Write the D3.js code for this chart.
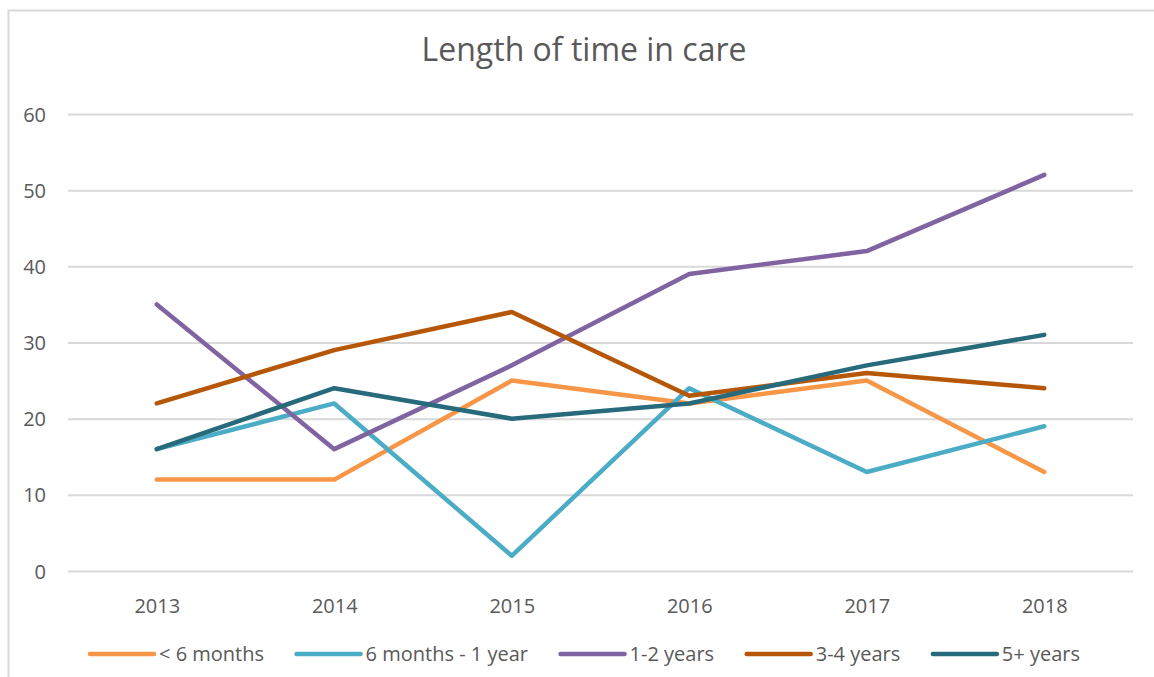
<!DOCTYPE html>
<html>
<head>
<meta charset="utf-8">
<script src="https://cdn.jsdelivr.net/npm/d3@7"></script>
<style>
  html, body { margin: 0; padding: 0; background: #fff; }
  svg { display: block; font-family: "Open Sans", Lato, sans-serif; }
</style>
</head>
<body>
<svg id="chart" width="1154" height="677"></svg>
<script>
const years = ["2013", "2014", "2015", "2016", "2017", "2018"];
const seriesNames = ["< 6 months", "6 months - 1 year", "1-2 years", "3-4 years", "5+ years"];
const lessThan6Months = [12, 12, 25, 22, 25, 13];
const sixMonthsTo1Year = [16, 22, 2, 24, 13, 19];
const oneToTwoYears = [35, 16, 27, 39, 42, 52];
const threeToFourYears = [22, 29, 34, 23, 26, 24];
const fivePlusYears = [16, 24, 20, 22, 27, 31];
const yTicks = [0, 10, 20, 30, 40, 50, 60];
const colors = ["#F79646", "#4BACC6", "#8064A2", "#B65708", "#276A7C"];

const seriesValues = [lessThan6Months, sixMonthsTo1Year, oneToTwoYears, threeToFourYears, fivePlusYears];
const series = seriesNames.map((name, i) => ({ name, values: seriesValues[i], color: colors[i] }));

const svg = d3.select("#chart");
const W = 1154, H = 677;
const plotLeft = 68, plotRight = 1133, plotTop = 114, plotBottom = 571;
const fontFam = "'Open Sans', Lato, sans-serif";

// frame
svg.append("path")
  .attr("d", `M8.5,${H} L8.5,10.5 L${W},10.5`)
  .attr("fill", "none").attr("stroke", "#d9d9d9").attr("stroke-width", 2);

// title
svg.append("text")
  .attr("x", 584).attr("y", 61)
  .attr("text-anchor", "middle")
  .attr("fill", "#595959")
  .attr("font-size", 32)
  .text("Length of time in care");

const x = d3.scalePoint().domain(years).range([plotLeft, plotRight]).padding(0.5);
const y = d3.scaleLinear().domain([0, 60]).range([plotBottom, plotTop]);

// y gridlines + labels via axis
const yAxis = svg.append("g")
  .attr("transform", `translate(${plotLeft},0)`)
  .call(d3.axisLeft(y).tickValues(yTicks).tickSize(-(plotRight - plotLeft)).tickPadding(22).tickFormat(d3.format("d")));
yAxis.select(".domain").remove();
yAxis.selectAll(".tick line").attr("stroke", "#d9d9d9").attr("stroke-width", 2);
yAxis.selectAll(".tick text")
  .attr("fill", "#595959").attr("font-size", 20).attr("font-family", fontFam)
  .attr("dy", "0.35em");

// x labels via axis
const xAxis = svg.append("g")
  .attr("transform", `translate(0,${plotBottom})`)
  .call(d3.axisBottom(x).tickSize(0).tickPadding(28));
xAxis.select(".domain").remove();
xAxis.selectAll(".tick text")
  .attr("fill", "#595959").attr("font-size", 20).attr("font-family", fontFam);

// lines
const line = d3.line().x((d, i) => x(years[i])).y(d => y(d));
svg.append("g").selectAll("path")
  .data(series)
  .join("path")
  .attr("d", d => line(d.values))
  .attr("fill", "none")
  .attr("stroke", d => d.color)
  .attr("stroke-width", 4.5)
  .attr("stroke-linecap", "round")
  .attr("stroke-linejoin", "round");

// legend
const legend = svg.append("g");
const legendY = 654;
const sampleW = 64, gapText = 5;
const legendStart = 90, legendEnd = 1080;
const items = legend.selectAll("g").data(series).join("g");
items.append("line")
  .attr("x1", 0).attr("x2", sampleW).attr("y1", 0).attr("y2", 0)
  .attr("stroke", d => d.color).attr("stroke-width", 4.5).attr("stroke-linecap", "round");
items.append("text")
  .attr("x", sampleW + gapText).attr("y", 0).attr("dy", "0.35em")
  .attr("fill", "#595959").attr("font-size", 20)
  .text(d => d.name);
let widths = [];
items.each(function() { widths.push(this.getBBox().width); });
const itemGap = Math.max(12, ((legendEnd - legendStart) - d3.sum(widths)) / (widths.length - 1));
const total = d3.sum(widths) + itemGap * (widths.length - 1);
let cx = (legendStart + legendEnd) / 2 - total / 2;
items.attr("transform", (d, i) => {
  const t = `translate(${cx},${legendY})`;
  cx += widths[i] + itemGap;
  return t;
});
</script>
</body>
</html>
